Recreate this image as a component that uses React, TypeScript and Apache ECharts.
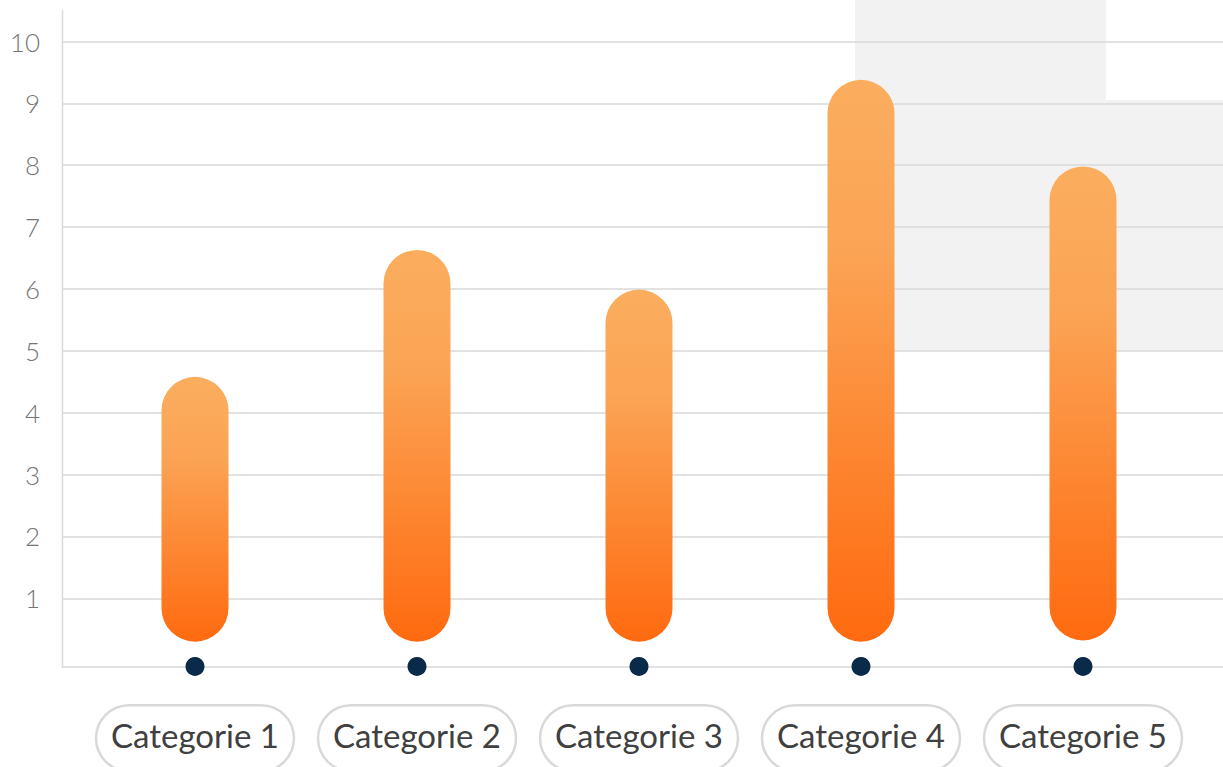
import React, { useEffect, useRef } from "react";
import * as echarts from "echarts";

const categories = ["Categorie 1", "Categorie 2", "Categorie 3", "Categorie 4", "Categorie 5"];
const barBottoms = [0.3, 0.3, 0.3, 0.3, 0.32];
const barTops = [4.58, 6.63, 5.99, 9.38, 7.98];
const dotValues = [-0.1, -0.1, -0.1, -0.1, -0.1];
const yTicks = [0, 10];

export default function App() {
  const ref = useRef<HTMLDivElement>(null);
  useEffect(() => {
    if (!ref.current) return;
    const chart = echarts.init(ref.current, null, { renderer: "svg" });
    const gridTop = 41.5;
    const gridBottom = 767 - 660.2;
    const gridColor = "#D9D9D9";
    const spans = barTops.map((t, i) => +(t - barBottoms[i]).toFixed(2));
    chart.setOption({
      animation: false,
      backgroundColor: "#ffffff",
      graphic: [
        { type: "rect", z: -10, shape: { x: 855, y: 0, width: 251, height: 100 }, style: { fill: "#F2F2F2" } },
        { type: "rect", z: -10, shape: { x: 855, y: 100, width: 368, height: 251 }, style: { fill: "#F2F2F2" } },
        { type: "line", z: 1, shape: { x1: 62.5, y1: 10, x2: 62.5, y2: 666.5 }, style: { stroke: gridColor, lineWidth: 1.5 } },
      ],
      grid: [
        { left: 62, right: 0, top: gridTop, bottom: gridBottom, outerBoundsMode: "none", containLabel: false },
        { left: 84, right: 29, top: gridTop, bottom: gridBottom, outerBoundsMode: "none", containLabel: false },
      ],
      xAxis: [
        {
          type: "category",
          gridIndex: 0,
          data: categories,
          offset: 6.3,
          axisLine: { show: true, onZero: false, lineStyle: { color: gridColor, width: 1.5 } },
          axisTick: { show: false },
          axisLabel: { show: false },
          splitLine: { show: false },
        },
        {
          type: "category",
          gridIndex: 1,
          data: categories,
          axisLine: { show: false, onZero: false },
          axisTick: { show: false },
          axisLabel: {
            show: true,
            interval: 0,
            margin: 45,
            fontFamily: "Lato",
            fontWeight: 400,
            fontSize: 33,
            lineHeight: 40,
            color: "#404040",
            borderColor: gridColor,
            borderWidth: 2.5,
            borderRadius: 33,
            padding: [10, 15, 16, 15],
          },
        },
      ],
      yAxis: [
        {
          type: "value",
          gridIndex: 0,
          min: yTicks[0],
          max: yTicks[1],
          interval: 1,
          axisLine: { show: false },
          axisTick: { show: false },
          axisLabel: {
            showMinLabel: false,
            margin: 22,
            fontFamily: "Lato",
            fontWeight: 300,
            fontSize: 26,
            color: "#757575",
          },
          splitLine: { show: true, showMinLine: false, lineStyle: { color: gridColor, width: 1.5 } },
        },
        {
          type: "value",
          gridIndex: 1,
          min: yTicks[0],
          max: yTicks[1],
          interval: 1,
          show: false,
          splitLine: { show: false },
        },
      ],
      series: [
        {
          type: "bar",
          xAxisIndex: 1,
          yAxisIndex: 1,
          stack: "range",
          barWidth: 67,
          data: barBottoms,
          itemStyle: { color: "rgba(0,0,0,0)" },
          silent: true,
        },
        {
          type: "bar",
          xAxisIndex: 1,
          yAxisIndex: 1,
          stack: "range",
          barWidth: 67,
          data: spans,
          itemStyle: {
            borderRadius: 34,
            color: new echarts.graphic.LinearGradient(0, 0, 0, 1, [
              { offset: 0, color: "#FBAD5E" },
              { offset: 0.3, color: "#FBA455" },
              { offset: 1, color: "#FF6A0F" },
            ]),
          },
        },
        {
          type: "scatter",
          xAxisIndex: 1,
          yAxisIndex: 1,
          clip: false,
          symbolSize: 19,
          data: dotValues,
          itemStyle: { color: "#0A2A4A", opacity: 1 },
          z: 5,
        },
      ],
    });
    return () => chart.dispose();
  }, []);
  return (
    <div
      ref={ref}
      style={{ position: "fixed", left: 0, top: 0, width: 1223, height: 767 }}
    />
  );
}
